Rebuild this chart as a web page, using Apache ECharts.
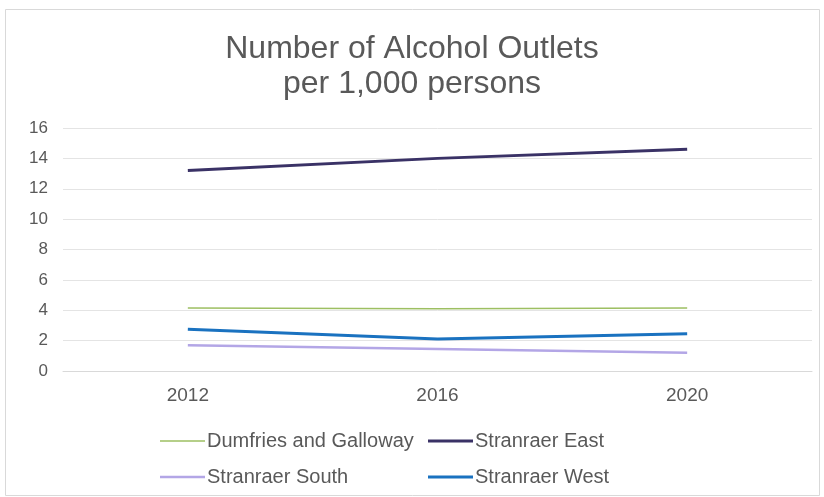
<!DOCTYPE html>
<html><head><meta charset="utf-8">
<script src="https://cdn.jsdelivr.net/npm/echarts@6/dist/echarts.min.js"></script>
<style>html,body{margin:0;padding:0;background:#fff}#c{width:824px;height:497px}</style>
</head><body><div id="c"></div>
<script>
const categories = ['2012', '2016', '2020'];
const seriesNames = ['Dumfries and Galloway', 'Stranraer East', 'Stranraer South', 'Stranraer West'];
const dumfriesGalloway = [4.15, 4.1, 4.15];
const stranraerEast = [13.2, 14.0, 14.6];
const stranraerSouth = [1.7, 1.45, 1.2];
const stranraerWest = [2.75, 2.1, 2.45];
const yTicks = [0, 2, 4, 6, 8, 10, 12, 14, 16];

const colors = ['#9dbf62', '#3a3266', '#b3a6e6', '#1a72c0'];
const widths = [1.5, 3, 2.5, 3];
const values = [dumfriesGalloway, stranraerEast, stranraerSouth, stranraerWest];
const font = 'Liberation Sans, Arial, sans-serif';
const legendPos = [[155, 426], [423, 426], [155, 462], [423, 462]];

const chart = echarts.init(document.getElementById('c'), null, {renderer: 'canvas'});
chart.setOption({
  animation: false,
  backgroundColor: '#fff',
  title: {
    text: 'Number of Alcohol Outlets\nper 1,000 persons',
    left: 'center', top: 27,
    textStyle: {fontFamily: font, fontSize: 32, fontWeight: 'normal', color: '#595959', lineHeight: 35}
  },
  graphic: [{type: 'rect', shape: {x: 5.5, y: 9.5, width: 814, height: 486}, style: {fill: 'none', stroke: '#d9d9d9', lineWidth: 1}, silent: true}],
  legend: seriesNames.map((n, i) => ({
    data: [n], left: legendPos[i][0], top: legendPos[i][1],
    icon: 'rect', itemWidth: 45, itemHeight: widths[i], itemGap: 5,
    textStyle: {fontFamily: font, fontSize: 20, color: '#595959', padding: [0, 0, 0, -3]},
    selectedMode: false
  })),
  grid: {left: 63, right: 12, top: 128, bottom: 126, containLabel: false},
  xAxis: {
    type: 'category', data: categories, boundaryGap: true,
    axisLine: {lineStyle: {color: '#d9d9d9', width: 1}},
    axisTick: {show: false},
    axisLabel: {fontFamily: font, fontSize: 19, color: '#595959', margin: 15}
  },
  yAxis: {
    type: 'value', min: yTicks[0], max: yTicks[yTicks.length - 1], interval: 2,
    axisLine: {show: false}, axisTick: {show: false},
    axisLabel: {fontFamily: font, fontSize: 17, color: '#595959', margin: 15},
    splitLine: {lineStyle: {color: '#e4e4e4', width: 1}}
  },
  series: seriesNames.map((n, i) => ({
    name: n, type: 'line', data: values[i], symbol: 'none',
    color: colors[i],
    lineStyle: {color: colors[i], width: widths[i]}
  }))
});
</script></body></html>
